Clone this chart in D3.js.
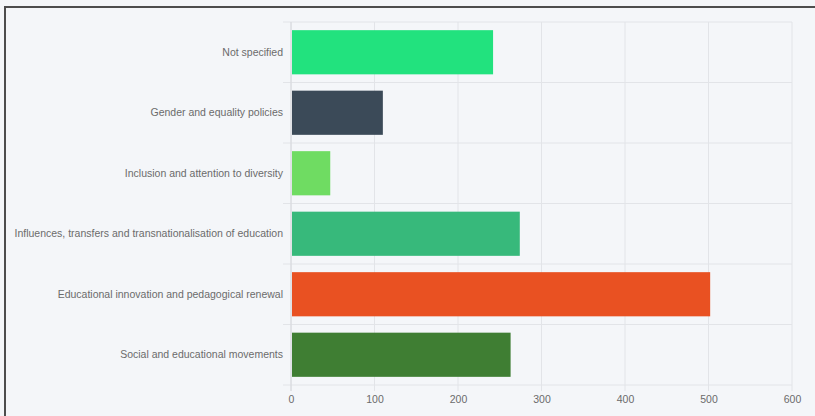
<!DOCTYPE html>
<html>
<head>
<meta charset="utf-8">
<script src="https://cdn.jsdelivr.net/npm/d3@7"></script>
<style>
    body { margin: 0; background: #f4f6f9; }
    .frame { position: absolute; left: 4px; top: 6px; width: 811px; height: 410px;
             border-left: 2px solid #4d4d4d; border-top: 2px solid #4d4d4d; box-sizing: border-box; }
    .axis text { font-family: "Liberation Sans", Arial, sans-serif; fill: #6b6b6b; }
</style>
</head>
<body>
<div class="frame"></div>
<div id="container" style="position:absolute;left:0;top:0;"></div>
<script>
/* CONSTANTS AND GLOBALS */
const width = 815;
const height = 416;
const margin = { top: 22, right: 23, bottom: 31, left: 291 };

/* DATA */
const categories = [
    "Not specified",
    "Gender and equality policies",
    "Inclusion and attention to diversity",
    "Influences, transfers and transnationalisation of education",
    "Educational innovation and pedagogical renewal",
    "Social and educational movements"
];
const counts = [242, 110, 47, 274, 502, 263];
const barColors = ["#22e27e", "#3b4a58", "#6fdc62", "#37b97b", "#e95122", "#3f7e33"];
const xTicks = [0, 100, 200, 300, 400, 500, 600];

const data = categories.map((c, i) => ({ category: c, count: counts[i], color: barColors[i] }));

/* SVG */
const svg = d3.select("#container")
    .append("svg")
    .attr("width", width)
    .attr("height", height)

/* SCALES */
const xScale = d3.scaleLinear()
    .domain([0, 600])
    .range([margin.left, width - margin.right])

const yScale = d3.scaleBand()
    .domain(categories)
    .range([margin.top, height - margin.bottom])
    .paddingInner(.27)
    .paddingOuter(.135)

// band boundaries for the horizontal grid / y ticks
const step = yScale.step()
const bounds = d3.range(categories.length + 1).map(i => margin.top + i * step)

/* GRID */
svg.append("g")
    .selectAll("line.v")
    .data(xTicks)
    .join("line")
    .attr("x1", d => xScale(d))
    .attr("x2", d => xScale(d))
    .attr("y1", margin.top)
    .attr("y2", height - margin.bottom + 6)
    .attr("stroke", "#e2e4e8")
    .attr("stroke-width", 1)

svg.append("g")
    .selectAll("line.h")
    .data(bounds)
    .join("line")
    .attr("x1", margin.left - 8)
    .attr("x2", xScale(600))
    .attr("y1", d => d)
    .attr("y2", d => d)
    .attr("stroke", "#e2e4e8")
    .attr("stroke-width", 1)

// y axis line
svg.append("line")
    .attr("x1", margin.left).attr("x2", margin.left)
    .attr("y1", margin.top).attr("y2", height - margin.bottom + 6)
    .attr("stroke", "#d6d8dc")

/* BARS */
svg.selectAll("rect.bar")
    .data(data)
    .join("rect")
    .attr("class", "bar")
    .attr("x", xScale(0) + 1)
    .attr("y", d => yScale(d.category))
    .attr("width", d => xScale(d.count) - xScale(0) - 1)
    .attr("height", yScale.bandwidth())
    .attr("fill", d => d.color)

/* AXES */
const xAxis = d3.axisBottom(xScale).tickValues(xTicks).tickSize(0).tickPadding(11)
svg.append("g")
    .attr("class", "axis")
    .attr("transform", `translate(0,${height - margin.bottom})`)
    .call(xAxis)
    .call(g => g.select(".domain").remove())
    .call(g => g.selectAll("text").style("font-size", "10.5px"))

const yAxis = d3.axisLeft(yScale).tickSize(0).tickPadding(8)
svg.append("g")
    .attr("class", "axis")
    .attr("transform", `translate(${margin.left},0)`)
    .call(yAxis)
    .call(g => g.select(".domain").remove())
    .call(g => g.selectAll("text").style("font-size", "10.5px"))
</script>
</body>
</html>
